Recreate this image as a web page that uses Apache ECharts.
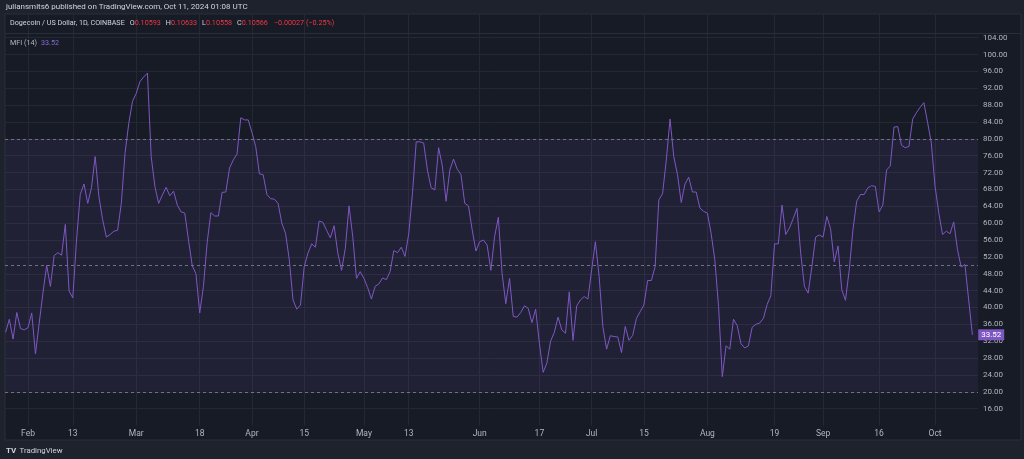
<!DOCTYPE html>
<html>
<head>
<meta charset="utf-8">
<script src="https://cdn.jsdelivr.net/npm/echarts@6/dist/echarts.min.js"></script>
<style>
html,body{margin:0;padding:0;background:#1e222d;}
#c{width:1024px;height:459px;}
</style>
</head>
<body>
<div id="c"></div>
<script>
// ---- Data (MFI 14, DOGE/USD daily, 2024-01-26 .. 2024-10-11) ----
const startDate = '2024-01-26';
const mfiJan = [34.1, 37.2, 32.5, 38.8, 35.0, 34.7];
const mfiFeb = [35.2, 38.7, 29.0, 36.3, 43.4, 50.0, 45.0, 52.3, 53.0, 52.4, 59.7, 43.9, 42.3, 56.0, 66.8, 69.3, 64.7, 68.4, 75.8, 66.3, 60.8, 56.7, 57.3, 58.1, 58.3, 64.7, 76.6, 83.7, 88.9];
const mfiMar = [90.8, 93.6, 94.7, 95.6, 75.8, 68.7, 64.7, 66.7, 68.5, 66.5, 67.6, 64.3, 62.7, 62.4, 56.0, 49.9, 48.0, 38.7, 45.0, 55.4, 62.5, 61.7, 61.7, 67.3, 67.4, 73.1, 75.0, 76.4, 85.0, 84.5, 84.5];
const mfiApr = [81.5, 78.2, 71.7, 71.5, 66.8, 65.8, 65.7, 64.7, 60.0, 57.6, 51.3, 41.8, 39.6, 40.6, 49.7, 52.9, 55.1, 54.3, 60.5, 60.2, 58.3, 56.5, 59.4, 52.9, 48.8, 54.0, 64.1, 56.8, 46.9, 48.5];
const mfiMay = [46.9, 44.7, 42.0, 45.0, 45.6, 47.0, 46.6, 48.5, 53.5, 53.0, 54.3, 52.1, 57.5, 67.1, 79.3, 79.3, 79.0, 72.6, 68.4, 67.9, 77.9, 73.6, 65.2, 72.6, 75.2, 72.8, 71.5, 64.7, 64.1, 58.4, 53.4];
const mfiJun = [55.6, 56.0, 54.8, 48.8, 56.8, 61.4, 48.1, 40.9, 46.9, 37.9, 37.7, 38.8, 40.4, 39.8, 36.4, 39.6, 31.5, 24.6, 26.8, 32.0, 34.1, 37.7, 34.7, 33.9, 43.7, 32.2, 40.4, 41.8, 42.6, 42.0];
const mfiJul = [48.9, 55.6, 47.4, 35.5, 30.1, 33.3, 33.1, 33.0, 29.3, 35.5, 32.2, 33.4, 37.4, 39.0, 40.6, 46.4, 46.4, 49.7, 65.5, 67.0, 75.0, 84.7, 75.8, 71.5, 64.9, 69.3, 70.9, 67.4, 67.4, 63.6, 62.8];
const mfiAug = [62.4, 57.6, 51.3, 40.2, 23.6, 30.9, 30.1, 37.2, 35.7, 31.4, 30.4, 30.9, 35.3, 36.0, 36.3, 37.4, 40.7, 42.8, 55.1, 55.1, 64.3, 57.3, 58.9, 61.1, 63.5, 52.9, 45.0, 43.4, 49.7, 56.7, 57.2];
const mfiSep = [56.7, 61.6, 58.7, 50.8, 54.6, 44.2, 41.7, 48.9, 58.4, 65.2, 66.8, 66.8, 68.4, 68.9, 68.7, 62.7, 64.3, 72.6, 73.6, 82.8, 82.9, 78.5, 77.9, 78.2, 84.7, 86.2, 87.5, 88.6, 83.9, 79.0];
const mfiOct = [68.7, 62.4, 57.3, 58.1, 57.5, 60.3, 53.7, 49.6, 50.2, 41.8, 33.52];

const xTickDates  = ['2024-02-01','2024-02-13','2024-03-01','2024-03-18','2024-04-01','2024-04-15','2024-05-01','2024-05-13','2024-06-01','2024-06-17','2024-07-01','2024-07-15','2024-08-01','2024-08-19','2024-09-01','2024-09-16','2024-10-01'];
const xTickLabels = ['Feb','13','Mar','18','Apr','15','May','13','Jun','17','Jul','15','Aug','19','Sep','16','Oct'];
const yTicks = [16,20,24,28,32,36,40,44,48,52,56,60,64,68,72,76,80,84,88,92,96,100,104];
const levels = [80, 50, 20];

// ---- build ----
const mfi = [].concat(mfiJan, mfiFeb, mfiMar, mfiApr, mfiMay, mfiJun, mfiJul, mfiAug, mfiSep, mfiOct);
const DAY = 86400000;
const t0 = Date.parse(startDate + 'T00:00:00Z');
const dayIndex = d => Math.round((Date.parse(d + 'T00:00:00Z') - t0) / DAY);
const xTickIdx = xTickDates.map(dayIndex);
const labelByIdx = {};
xTickIdx.forEach((v, i) => labelByIdx[v] = xTickLabels[i]);
const seriesData = mfi.map((v, i) => [i, v]);
const lastIdx = mfi.length - 1, lastVal = mfi[lastIdx];

const FONT = 'Roboto, "Noto Sans", sans-serif';
const GRID_LINE = '#242835';
const SMALL = '7.2px ' + FONT;
const chart = echarts.init(document.getElementById('c'));

chart.setOption({
  backgroundColor: '#1e222d',
  animation: false,
  textStyle: { fontFamily: FONT },
  grid: [
    { left: 5, right: 46, top: 33.5, height: 392, containLabel: false },
    { left: 5, right: 46, top: 14, height: 19.5, containLabel: false }
  ],
  xAxis: [
    {
      type: 'value', gridIndex: 0, min: -0.16, max: 260.5,
      axisLine: { show: false }, axisTick: { show: false, customValues: xTickIdx },
      axisLabel: { customValues: xTickIdx, formatter: v => labelByIdx[Math.round(v)] || '',
        color: '#b2b5be', fontSize: 8.5, margin: 4, fontFamily: FONT },
      splitLine: { show: true, lineStyle: { color: GRID_LINE, width: 1 } }
    },
    {
      type: 'value', gridIndex: 1, min: -0.16, max: 260.5,
      axisLine: { show: false }, axisTick: { show: false, customValues: xTickIdx },
      axisLabel: { show: false, customValues: xTickIdx },
      splitLine: { show: true, lineStyle: { color: GRID_LINE, width: 1 } }
    }
  ],
  yAxis: [
    {
      type: 'value', gridIndex: 0, position: 'right', min: 12, max: 105,
      axisLine: { show: false }, axisTick: { show: false, customValues: yTicks },
      axisLabel: { customValues: yTicks, formatter: v => v.toFixed(2), color: '#b2b5be',
        fontSize: 8, margin: 5, fontFamily: FONT },
      splitLine: { show: true, lineStyle: { color: GRID_LINE, width: 1 } }
    },
    { type: 'value', gridIndex: 1, min: 0, max: 1, show: false }
  ],
  series: [{
    type: 'line', xAxisIndex: 0, yAxisIndex: 0, data: seriesData,
    showSymbol: false, symbol: 'none', clip: false,
    lineStyle: { color: '#7E57C2', width: 1 },
    markArea: {
      silent: true,
      itemStyle: { color: 'rgba(126,87,194,0.10)' },
      data: [[{ yAxis: levels[2] }, { yAxis: levels[0] }]]
    },
    markLine: {
      silent: true, symbol: 'none', label: { show: false },
      lineStyle: { color: '#6f7280', type: [3, 3], width: 1 },
      data: levels.map(v => ({ yAxis: v }))
    },
    markPoint: {
      silent: true,
      symbol: 'rect', symbolSize: [26, 11], symbolOffset: [18.8, 0],
      itemStyle: { color: '#7E57C2' },
      label: { show: true, color: '#ffffff', fontSize: 8, fontFamily: FONT,
        formatter: () => lastVal.toFixed(2) },
      data: [{ coord: [lastIdx, lastVal] }]
    }
  }],
  graphic: [
    { type: 'rect', z: -10, silent: true, shape: { x: 5, y: 14, width: 1016, height: 426 },
      style: { fill: '#171b26', stroke: '#2a2e39', lineWidth: 1 } },
    { type: 'line', z: 10, silent: true, shape: { x1: 5, y1: 33.5, x2: 1021, y2: 33.5 },
      style: { stroke: '#2a2e39', lineWidth: 1 } },
    { type: 'text', z: 10, left: 6, top: 3, silent: true,
      style: { text: 'juliansmits6 published on TradingView.com, Oct 11, 2024 01:08 UTC',
        fill: '#d1d4dc', font: '8px ' + FONT } },
    { type: 'text', z: 10, left: 10, top: 20, silent: true,
      style: {
        text: '{n|Dogecoin / US Dollar, 1D, COINBASE}{k|O}{v|0.10593}{k|H}{v|0.10633}{k|L}{v|0.10558}{k|C}{v|0.10566}{c|−0.00027 (−0.25%)}',
        rich: {
          n: { fill: '#d1d4dc', font: SMALL },
          k: { fill: '#d1d4dc', font: SMALL, padding: [0, 0, 0, 5] },
          v: { fill: '#f23645', font: SMALL },
          c: { fill: '#f23645', font: SMALL, padding: [0, 0, 0, 6] }
        }
      } },
    { type: 'text', z: 10, left: 10, top: 39.5, silent: true,
      style: {
        text: '{n|MFI (14)}{v|33.52}',
        rich: {
          n: { fill: '#b2b5be', font: SMALL },
          v: { fill: '#8c6bd1', font: SMALL, padding: [0, 0, 0, 4] }
        }
      } },
    { type: 'text', z: 10, left: 6, top: 445, silent: true,
      style: {
        text: '{l|TV} {n|TradingView}',
        rich: {
          l: { fill: '#d1d4dc', font: 'bold 8px ' + FONT },
          n: { fill: '#d1d4dc', font: '7.8px ' + FONT }
        }
      } }
  ]
});
</script>
</body>
</html>
